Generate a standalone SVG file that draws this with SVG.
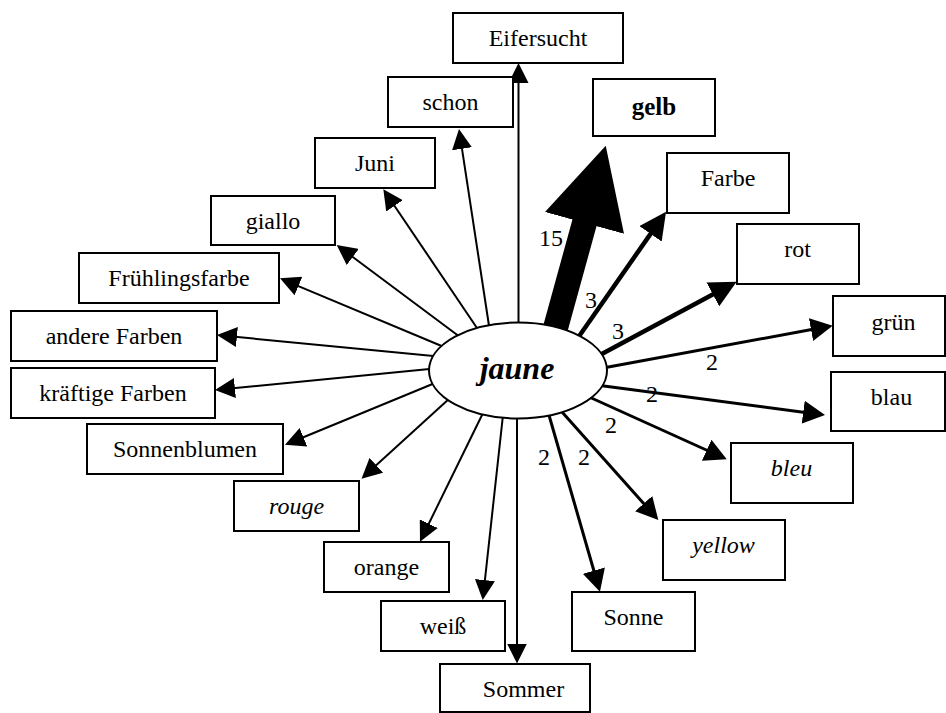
<svg xmlns="http://www.w3.org/2000/svg" width="946" height="713" viewBox="0 0 946 713">
  <style>
    .box { fill: #fff; stroke: #000; stroke-width: 2; }
    .hub { fill: #fff; stroke: #000; stroke-width: 2; }
    .t { font-family: "Liberation Serif", "Times New Roman", serif; font-size: 24px; text-anchor: middle; fill: #000; }
    .it { font-style: italic; }
    .bd { font-weight: bold; }
    .e { stroke: #000; fill: none; }
    .w1 { stroke-width: 2; marker-end: url(#hs); }
    .w2 { stroke-width: 3; marker-end: url(#hm); }
    .w3 { stroke-width: 4.5; marker-end: url(#hl); }
    .w15 { stroke-width: 25; marker-end: url(#hx); }
  </style>
  <defs>
    <marker id="hs" markerUnits="userSpaceOnUse" markerWidth="20" markerHeight="20" refX="2" refY="10" orient="auto">
      <path d="M0,0 L20,10 L0,20 z" fill="#000"/>
    </marker>
    <marker id="hm" markerUnits="userSpaceOnUse" markerWidth="22" markerHeight="23" refX="2" refY="11.5" orient="auto">
      <path d="M0,0 L22,11.5 L0,23 z" fill="#000"/>
    </marker>
    <marker id="hl" markerUnits="userSpaceOnUse" markerWidth="27" markerHeight="27" refX="3" refY="13.5" orient="auto">
      <path d="M0,0 L27,13.5 L0,27 z" fill="#000"/>
    </marker>
    <marker id="hx" markerUnits="userSpaceOnUse" markerWidth="80" markerHeight="82" refX="2" refY="41" orient="auto">
      <path d="M0,0 L80,41 L0,82 z" fill="#000"/>
    </marker>
  </defs>

  <!-- connectors (drawn first so the hub ellipse covers their roots) -->
  <g id="connectors">
    <line class="e w1" x1="518.5" y1="326" x2="518.5" y2="81"/>
    <line class="e w1" x1="489.5" y1="329" x2="461.7" y2="146.8"/>
    <line class="e w1" x1="479" y1="331" x2="393.4" y2="204.2"/>
    <line class="e w1" x1="460" y1="337" x2="351.1" y2="255.8"/>
    <line class="e w1" x1="444" y1="347" x2="296.6" y2="285.3"/>
    <line class="e w1" x1="436" y1="356.3" x2="234.9" y2="336.8"/>
    <line class="e w1" x1="432" y1="368.7" x2="232.9" y2="388.2"/>
    <line class="e w1" x1="435" y1="383" x2="301.6" y2="438.0"/>
    <line class="e w1" x1="450" y1="398" x2="374.8" y2="466.6"/>
    <line class="e w1" x1="484" y1="411" x2="427.9" y2="525.5"/>
    <line class="e w1" x1="503" y1="415" x2="484.7" y2="582.1"/>
    <line class="e w1" x1="517" y1="415" x2="517" y2="645.5"/>

    <line class="e w2" x1="547.5" y1="410" x2="594.4" y2="572.5"/>
    <line class="e w2" x1="558" y1="407.5" x2="645.0" y2="505.1"/>
    <line class="e w2" x1="587" y1="396" x2="708.5" y2="451.0"/>
    <line class="e w2" x1="600" y1="385.5" x2="805.2" y2="412.4"/>
    <line class="e w2" x1="603" y1="368" x2="813.0" y2="329.3"/>

    <line class="e w3" x1="598" y1="356" x2="715.5" y2="293.0"/>
    <line class="e w3" x1="577.5" y1="338.5" x2="652.3" y2="231.4"/>

    <line class="e w15" x1="552.2" y1="340" x2="585.0" y2="221.0"/>

    <text class="t" x="551" y="246">15</text>
    <text class="t" x="591" y="308">3</text>
    <text class="t" x="618" y="339">3</text>
    <text class="t" x="712" y="370">2</text>
    <text class="t" x="652" y="402">2</text>
    <text class="t" x="611" y="433">2</text>
    <text class="t" x="584" y="465">2</text>
    <text class="t" x="544" y="465">2</text>
  </g>

  <!-- hub -->
  <g id="jaune">
    <ellipse class="hub" cx="518" cy="370.5" rx="89" ry="48"/>
    <text class="t it bd" x="517" y="379" style="font-size:32px">jaune</text>
  </g>

  <!-- outer nodes -->
  <g id="eifersucht"><rect class="box" x="453" y="13" width="170" height="50"/><text class="t" x="538" y="46">Eifersucht</text></g>
  <g id="schon"><rect class="box" x="388" y="77" width="125" height="50"/><text class="t" x="450.5" y="110">schon</text></g>
  <g id="gelb"><rect class="box" x="593" y="79" width="122" height="57"/><text class="t bd" x="654" y="115" style="font-size:25px">gelb</text></g>
  <g id="juni"><rect class="box" x="315" y="138" width="120" height="50"/><text class="t" x="375" y="171">Juni</text></g>
  <g id="giallo"><rect class="box" x="211" y="196" width="124" height="49"/><text class="t" x="273" y="229">giallo</text></g>
  <g id="fruehlingsfarbe"><rect class="box" x="79" y="253" width="200" height="50"/><text class="t" x="179" y="286">Frühlingsfarbe</text></g>
  <g id="andere-farben"><rect class="box" x="11" y="311" width="206" height="50"/><text class="t" x="114" y="344">andere Farben</text></g>
  <g id="kraeftige-farben"><rect class="box" x="11" y="368" width="204" height="50"/><text class="t" x="113" y="401">kräftige Farben</text></g>
  <g id="sonnenblumen"><rect class="box" x="87" y="424" width="196" height="50"/><text class="t" x="185" y="457">Sonnenblumen</text></g>
  <g id="rouge"><rect class="box" x="234" y="481" width="125" height="50"/><text class="t it" x="296.5" y="514">rouge</text></g>
  <g id="orange"><rect class="box" x="324" y="542" width="125" height="50"/><text class="t" x="386.5" y="575">orange</text></g>
  <g id="weiss"><rect class="box" x="381" y="601" width="124" height="50"/><text class="t" x="443" y="634">weiß</text></g>
  <g id="sommer"><rect class="box" x="440" y="664" width="150" height="48"/><text class="t" x="523.5" y="697">Sommer</text></g>
  <g id="sonne"><rect class="box" x="572" y="592" width="123" height="59"/><text class="t" x="633.5" y="625">Sonne</text></g>
  <g id="yellow"><rect class="box" x="663" y="520" width="122" height="60"/><text class="t it" x="723.5" y="553">yellow</text></g>
  <g id="bleu"><rect class="box" x="731" y="443" width="122" height="60"/><text class="t it" x="791.5" y="476">bleu</text></g>
  <g id="blau"><rect class="box" x="831" y="372" width="114" height="59"/><text class="t" x="891.5" y="405">blau</text></g>
  <g id="gruen"><rect class="box" x="833" y="296" width="112" height="60"/><text class="t" x="893.5" y="330">grün</text></g>
  <g id="rot"><rect class="box" x="737" y="224" width="122" height="60"/><text class="t" x="797.5" y="257">rot</text></g>
  <g id="farbe"><rect class="box" x="667" y="153" width="122" height="60"/><text class="t" x="728" y="186">Farbe</text></g>
</svg>
